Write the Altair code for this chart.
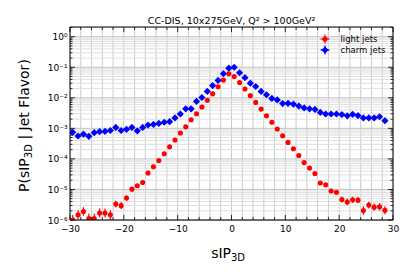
import altair as alt
import pandas as pd

# ---- data ----
series_names = ["light jets", "charm jets"]

x_centers = [-29.5, -28.5, -27.5, -26.5, -25.5, -24.5, -23.5, -22.5, -21.5, -20.5,
             -19.5, -18.5, -17.5, -16.5, -15.5, -14.5, -13.5, -12.5, -11.5, -10.5,
             -9.5, -8.5, -7.5, -6.5, -5.5, -4.5, -3.5, -2.5, -1.5, -0.5,
             0.5, 1.5, 2.5, 3.5, 4.5, 5.5, 6.5, 7.5, 8.5, 9.5,
             10.5, 11.5, 12.5, 13.5, 14.5, 15.5, 16.5, 17.5, 18.5, 19.5,
             20.5, 21.5, 22.5, 23.5, 24.5, 25.5, 26.5, 27.5, 28.5]

light_log10 = [-6.00, -5.83, -5.72, -5.95, -5.95, -5.77, -5.77, -5.83, -5.48, -5.53,
               -5.28, -4.99, -4.88, -4.77, -4.46, -4.26, -4.05, -3.83, -3.60, -3.38,
               -3.15, -2.95, -2.72, -2.52, -2.30, -2.08, -1.87, -1.64, -1.42, -1.21,
               -1.30, -1.50, -1.71, -1.93, -2.15, -2.37, -2.59, -2.80, -3.02, -3.24,
               -3.46, -3.67, -3.89, -4.12, -4.30, -4.48, -4.79, -4.85, -5.05, -5.09,
               -5.33, -5.41, -5.34, -5.35, -5.69, -5.51, -5.58, -5.57, -5.68]

light_err_dec = [0.16, 0.15, 0.14, 0.16, 0.16, 0.15, 0.15, 0.15, 0.11, 0.12,
                 0.09, 0.07, 0.06, 0.06, 0.04, 0.03, 0.03, 0.02, 0.02, 0.01,
                 0.01, 0.01, 0.01, 0.01, 0.01, 0.01, 0.01, 0.01, 0.01, 0.01,
                 0.01, 0.01, 0.01, 0.01, 0.01, 0.01, 0.01, 0.01, 0.01, 0.01,
                 0.01, 0.02, 0.02, 0.03, 0.03, 0.04, 0.06, 0.06, 0.07, 0.07,
                 0.10, 0.11, 0.10, 0.10, 0.14, 0.11, 0.12, 0.12, 0.13]

charm_log10 = [-3.13, -3.25, -3.19, -3.26, -3.14, -3.11, -3.10, -3.07, -2.97, -3.07,
               -3.03, -2.97, -3.08, -2.97, -2.89, -2.87, -2.84, -2.80, -2.78, -2.66,
               -2.53, -2.36, -2.36, -2.12, -1.99, -1.79, -1.60, -1.43, -1.21, -1.03,
               -1.00, -1.18, -1.34, -1.52, -1.63, -1.79, -1.90, -2.02, -2.07, -2.19,
               -2.18, -2.21, -2.27, -2.33, -2.36, -2.38, -2.48, -2.53, -2.53, -2.53,
               -2.55, -2.59, -2.54, -2.58, -2.66, -2.66, -2.66, -2.62, -2.75]

title_text = "CC-DIS, 10x275GeV, Q\u00b2 > 100GeV\u00b2"
x_tick_labels = [-30, -20, -10, 0, 10, 20, 30]
y_decades = [1e-6, 1e-5, 1e-4, 1e-3, 1e-2, 1e-1, 1e0]

# ---- layout ----
W, H = 323, 193
YMIN, YMAX = 1e-6, 2.08
FONT = "DejaVu Sans"
RED = "#ff0000"
BLUE = "#0000ff"

xscale = alt.Scale(domain=[-30, 30], nice=False, zero=False)
yscale = alt.Scale(type="log", domain=[YMIN, YMAX], nice=False)

df = pd.DataFrame({
    "x": x_centers,
    "light": [10 ** v for v in light_log10],
    "light_lo": [10 ** (v - e) for v, e in zip(light_log10, light_err_dec)],
    "light_hi": [10 ** (v + e) for v, e in zip(light_log10, light_err_dec)],
    "charm": [10 ** v for v in charm_log10],
})

xgrid = pd.DataFrame({"v": list(range(-28, 29, 2))})
xticks_minor = pd.DataFrame({"v": [v for v in range(-30, 31, 2) if v % 10 != 0]})
xticks_major = pd.DataFrame({"v": x_tick_labels})
ydec = pd.DataFrame({"v": y_decades})
yminor = pd.DataFrame({"v": [m * 10.0 ** k for k in range(-6, 1) for m in range(2, 10)
                             if m * 10.0 ** k < YMAX]})

ylabel_expr = ("datum.value >= 0.5 ? '10\u2070' : datum.value >= 0.05 ? '10\u207b\u00b9' : "
               "datum.value >= 0.005 ? '10\u207b\u00b2' : datum.value >= 0.0005 ? '10\u207b\u00b3' : "
               "datum.value >= 0.00005 ? '10\u207b\u2074' : datum.value >= 0.000005 ? '10\u207b\u2075' : '10\u207b\u2076'")

xaxis = alt.Axis(values=x_tick_labels, ticks=False, domain=False, grid=False, title=None,
                 labelFont=FONT, labelFontSize=9, labelColor="black", labelPadding=4,
                 labelFlush=False, labelOverlap=False,
                 labelExpr="replace(format(datum.value, 'd'), '-', '\u2212')")
yaxis = alt.Axis(values=y_decades, ticks=False, domain=False, grid=False, title=None,
                 labelFont=FONT, labelFontSize=9, labelColor="black", labelPadding=3,
                 labelFlush=False, labelOverlap=False,
                 labelExpr=ylabel_expr)


def X(field):
    return alt.X(field, scale=xscale, axis=xaxis)


def Y(field):
    return alt.Y(field, scale=yscale, axis=yaxis)


# grid
grid_v = alt.Chart(xgrid).mark_rule(color="#cacaca", strokeWidth=1).encode(
    x=X("v:Q"), y=alt.value(0), y2=alt.value(H))
grid_ymin = alt.Chart(yminor).mark_rule(color="#e0e0e0", strokeWidth=1).encode(
    y=Y("v:Q"), x=alt.value(0), x2=alt.value(W))
grid_ydec = alt.Chart(ydec).mark_rule(color="#c4c4c4", strokeWidth=1).encode(
    y=Y("v:Q"), x=alt.value(0), x2=alt.value(W))


# inward ticks
def xtick(data, y0, y1):
    return alt.Chart(data).mark_rule(color="black", strokeWidth=0.8).encode(
        x=X("v:Q"), y=alt.value(y0), y2=alt.value(y1))


def ytick(data, x0, x1):
    return alt.Chart(data).mark_rule(color="black", strokeWidth=0.8).encode(
        y=Y("v:Q"), x=alt.value(x0), x2=alt.value(x1))


ticks = [
    xtick(xticks_minor, H, H - 3), xtick(xticks_major, H, H - 5),
    xtick(xticks_minor, 0, 3), xtick(xticks_major, 0, 5),
    ytick(yminor, 0, 2.5), ytick(ydec, 0, 5),
    ytick(yminor, W, W - 2.5), ytick(ydec, W, W - 5),
]

# data
base = alt.Chart(df)
light_err = base.mark_rule(color=RED, strokeWidth=1.2, clip=True).encode(
    x=X("x:Q"), y=Y("light_lo:Q"), y2="light_hi:Q")
light_pts = base.mark_point(shape="circle", filled=True, size=26, color=RED,
                            opacity=1, clip=True).encode(
    x=X("x:Q"), y=Y("light:Q"))
charm_pts = base.mark_point(shape="diamond", filled=True, size=52, color=BLUE,
                            opacity=1, clip=True).encode(
    x=X("x:Q"), y=Y("charm:Q"))

frame_df = pd.DataFrame({"a": [0]})
frame = alt.Chart(frame_df).mark_rect(fill=None, stroke="black", strokeWidth=1).encode(
    x=alt.value(0), x2=alt.value(W), y=alt.value(0), y2=alt.value(H))


# legend
def legend_entry(name, color, shape, size, ypos):
    d = pd.DataFrame({"label": [name]})
    c = alt.Chart(d)
    hbar = c.mark_rule(color=color, strokeWidth=1.2).encode(
        x=alt.value(250.5), x2=alt.value(259.5), y=alt.value(ypos))
    vbar = c.mark_rule(color=color, strokeWidth=1.2).encode(
        x=alt.value(255), y=alt.value(ypos - 4.5), y2=alt.value(ypos + 4.5))
    pt = c.mark_point(shape=shape, filled=True, size=size, color=color, opacity=1).encode(
        x=alt.value(255), y=alt.value(ypos))
    tx = c.mark_text(align="left", baseline="middle", font=FONT, fontSize=8.5,
                     color="black").encode(
        x=alt.value(270.5), y=alt.value(ypos), text="label:N")
    return [hbar, vbar, pt, tx]


legend_layers = (legend_entry(series_names[0], RED, "circle", 26, 12)
                 + legend_entry(series_names[1], BLUE, "diamond", 52, 23))

# titles as text
tdf = pd.DataFrame({"t": [title_text]})
title = alt.Chart(tdf).mark_text(align="center", baseline="alphabetic", font=FONT,
                                 fontSize=9.5, color="black").encode(
    x=alt.value(W / 2), y=alt.value(-3), text="t:N")

xt_df = pd.DataFrame({"a": ["sIP"], "b": ["3D"]})
xtitle_main = alt.Chart(xt_df).mark_text(align="right", baseline="alphabetic", font=FONT,
                                         fontSize=14, color="black").encode(
    x=alt.value(161), y=alt.value(231), text="a:N")
xtitle_sub = alt.Chart(xt_df).mark_text(align="left", baseline="alphabetic", font=FONT,
                                        fontSize=10, color="black").encode(
    x=alt.value(161), y=alt.value(233.5), text="b:N")

yt_df = pd.DataFrame({"a": ["P(sIP"], "b": ["3D"], "c": ["| Jet Flavor)"]})
Y0 = 165
XB = -41
ytitle_a = alt.Chart(yt_df).mark_text(align="left", baseline="alphabetic", font=FONT,
                                      fontSize=14, angle=270, color="black").encode(
    x=alt.value(XB), y=alt.value(Y0), text="a:N")
ytitle_b = alt.Chart(yt_df).mark_text(align="left", baseline="alphabetic", font=FONT,
                                      fontSize=10, angle=270, color="black").encode(
    x=alt.value(XB + 2.5), y=alt.value(Y0 - 33.8), text="b:N")
ytitle_c = alt.Chart(yt_df).mark_text(align="left", baseline="alphabetic", font=FONT,
                                      fontSize=14, angle=270, color="black").encode(
    x=alt.value(XB), y=alt.value(Y0 - 33.8 - 14.1 - 4.5), text="c:N")

layers = ([grid_v, grid_ymin, grid_ydec] + ticks
          + [light_err, light_pts, charm_pts, frame]
          + legend_layers
          + [title, xtitle_main, xtitle_sub, ytitle_a, ytitle_b, ytitle_c])

chart = alt.layer(*layers).properties(
    width=W, height=H,
    autosize=alt.AutoSizeParams(type="none"),
    padding={"left": 62, "top": 19, "right": 14, "bottom": 49},
).configure_view(stroke=None).configure(font=FONT, background="white")

chart.save("out.html", embed_options={"renderer": "svg", "actions": False})
